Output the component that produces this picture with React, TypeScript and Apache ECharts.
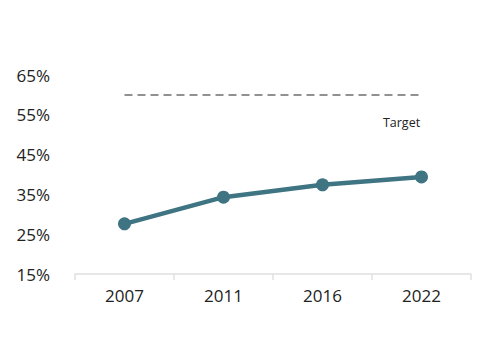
import React, { useEffect, useRef } from "react";
import * as echarts from "echarts";

const categories = ["2007", "2011", "2016", "2022"];
const shareValues = [27.6, 34.3, 37.4, 39.4];
const targetValues = [60, 60, 60, 60];
const yTicks = { min: 15, max: 65, interval: 10 };
const targetLabel = "Target";

export default function App() {
  const ref = useRef<HTMLDivElement>(null);
  useEffect(() => {
    if (!ref.current) return;
    const chart = echarts.init(ref.current, null, { renderer: "svg" });
    const lastIdx = targetValues.length - 1;
    chart.setOption({
      animation: false,
      textStyle: { fontFamily: "Open Sans" },
      grid: { left: 75, right: 26, top: 75, bottom: 85 },
      xAxis: {
        type: "category",
        data: categories,
        boundaryGap: true,
        axisLine: { lineStyle: { color: "#e0e0e0", width: 1.5 } },
        axisTick: { show: true, length: 6, lineStyle: { color: "#e0e0e0", width: 1.5 } },
        axisLabel: { color: "#222", fontSize: 17, margin: 13, fontFamily: "Open Sans" },
      },
      yAxis: {
        type: "value",
        min: yTicks.min,
        max: yTicks.max,
        interval: yTicks.interval,
        splitLine: { show: false },
        axisLine: { show: false },
        axisTick: { show: false },
        axisLabel: {
          color: "#222",
          fontSize: 17,
          margin: 25,
          fontFamily: "Open Sans",
          formatter: "{value}%",
        },
      },
      series: [
        {
          type: "line",
          data: targetValues,
          symbol: "none",
          lineStyle: { color: "#6e6e6e", width: 1.5, type: [8, 5] },
          markPoint: {
            symbol: "circle",
            symbolSize: 2,
            itemStyle: { color: "rgba(0,0,0,0)" },
            data: [
              {
                coord: [lastIdx, targetValues[lastIdx]],
                label: {
                  show: true,
                  formatter: targetLabel,
                  position: "inside",
                  color: "#222",
                  fontSize: 12.5,
                  fontFamily: "Open Sans",
                  offset: [-20, 28],
                },
              },
            ],
          },
        },
        {
          type: "line",
          data: shareValues,
          symbol: "circle",
          symbolSize: 13,
          itemStyle: { color: "#3f7482" },
          lineStyle: { color: "#3f7482", width: 4.5 },
        },
      ],
    });
    return () => chart.dispose();
  }, []);
  return (
    <div
      ref={ref}
      style={{ position: "fixed", left: 0, top: 0, width: 497, height: 359, background: "#fff" }}
    />
  );
}
